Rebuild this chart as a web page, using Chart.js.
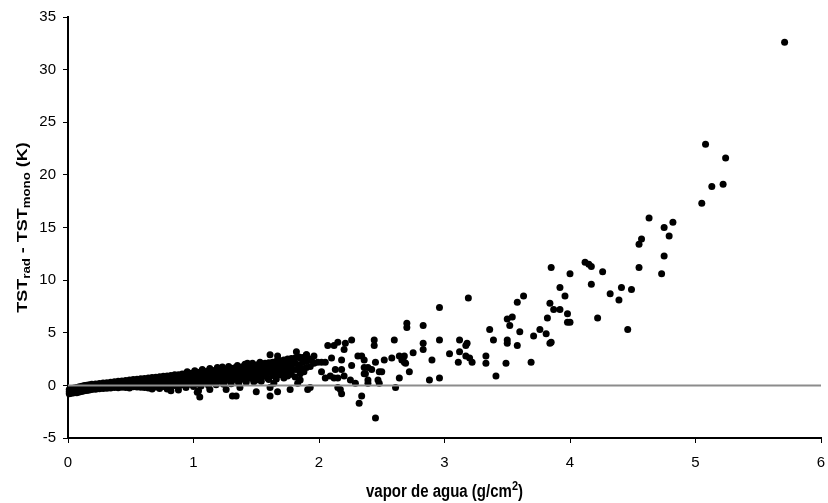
<!DOCTYPE html>
<html>
<head>
<meta charset="utf-8">
<script src="https://cdn.jsdelivr.net/npm/chart.js@4.4.0/dist/chart.umd.min.js"></script>
<style>
  body { margin: 0; background: #fff; }
  canvas { display: block; }
</style>
</head>
<body>
<canvas id="vaporChart" width="828" height="503"></canvas>
<script>
// ticks
const xTicks = [0, 1, 2, 3, 4, 5, 6];
const yTicks = [-5, 0, 5, 10, 15, 20, 25, 30, 35];

// dense band (0 - 2 g/cm2): one x per column, several y values
const bandX = [0.01, 0.03, 0.05, 0.07, 0.09, 0.11, 0.13, 0.15, 0.17, 0.19,
  0.22, 0.25, 0.28, 0.31, 0.34, 0.37, 0.40, 0.43, 0.46, 0.49,
  0.52, 0.55, 0.58, 0.61, 0.64, 0.67, 0.70, 0.73, 0.76, 0.79,
  0.82, 0.85, 0.88, 0.91, 0.94, 0.97, 1.00, 1.03, 1.06, 1.09,
  1.12, 1.15, 1.18, 1.21, 1.24, 1.27, 1.30, 1.33, 1.36, 1.39,
  1.42, 1.45, 1.48, 1.51, 1.54, 1.57, 1.60, 1.63, 1.66, 1.69,
  1.72, 1.75, 1.78, 1.81, 1.84, 1.87, 1.90, 1.93];
const bandY = [
  [-0.40, -0.60, -0.80], [-0.30, -0.55, -0.75], [-0.25, -0.50, -0.70], [-0.20, -0.45, -0.70],
  [-0.12, -0.40, -0.62], [-0.08, -0.35, -0.58], [-0.02, -0.30, -0.52], [0.02, -0.25, -0.48],
  [0.06, -0.20, -0.45], [0.10, -0.15, -0.40], [0.14, -0.10, -0.36], [0.18, -0.05, -0.32],
  [0.22, 0.00, -0.30], [0.26, 0.04, -0.28], [0.30, 0.06, -0.25], [0.35, 0.10, -0.20],
  [0.40, 0.12, -0.22], [0.42, 0.15, -0.18], [0.46, 0.20, -0.20], [0.50, 0.22, -0.15, -0.25],
  [0.55, 0.25, -0.12], [0.58, 0.30, -0.15], [0.62, 0.32, 0.02, -0.18], [0.66, 0.36, 0.05, -0.20],
  [0.70, 0.40, 0.10, -0.25], [0.74, 0.42, 0.12, -0.35], [0.78, 0.48, 0.15, -0.15], [0.82, 0.50, 0.20, -0.30],
  [0.86, 0.55, 0.22, -0.10], [0.90, 0.58, 0.25, -0.35], [0.94, 0.62, 0.30, -0.05, -0.50], [1.00, 0.66, 0.32, 0.00],
  [1.02, 0.70, 0.35, -0.10, -0.45], [1.08, 0.72, 0.40, 0.05], [1.12, 0.78, 0.42, 0.08, -0.20], [1.16, 0.80, 0.45, 0.10],
  [1.20, 0.85, 0.50, 0.12, -0.10], [1.25, 0.90, 0.55, 0.15, -0.65], [1.30, 0.92, 0.58, 0.20, -0.05], [1.32, 0.98, 0.62, 0.25],
  [1.38, 1.00, 0.65, 0.30, 0.00], [1.42, 1.05, 0.70, 0.32], [1.45, 1.10, 0.75, 0.35, 0.05], [1.50, 1.12, 0.78, 0.40],
  [1.55, 1.18, 0.82, 0.45, 0.10], [1.58, 1.20, 0.85, 0.48], [1.62, 1.25, 0.90, 0.50, 0.15], [1.68, 1.30, 0.95, 0.55],
  [1.72, 1.35, 1.00, 0.60, 0.20], [1.78, 1.38, 1.02, 0.62], [1.80, 1.42, 1.05, 0.65, 0.30], [1.85, 1.48, 1.10, 0.70],
  [1.90, 1.50, 1.15, 0.75, 0.35], [1.95, 1.55, 1.20, 0.80], [2.00, 1.60, 1.25, 0.85, 0.40], [2.10, 1.65, 1.20, 0.90],
  [2.15, 1.70, 1.30, 0.55], [2.20, 1.75, 1.35, 0.95], [2.30, 1.80, 1.40, 0.60], [2.35, 1.85, 1.45, 1.00],
  [2.40, 1.90, 1.50, 0.70], [2.50, 1.95, 1.40, 0.90], [2.55, 2.00, 1.60, 1.05], [2.60, 2.10, 1.50, 0.80],
  [2.70, 1.95, 1.45], [2.65, 2.20, 1.60], [2.90, 2.30, 1.70], [2.50, 1.80]
];

// single, separated points [vapor de agua, TSTrad - TSTmono]
const loosePoints = [
  [0.95, 1.30], [1.01, 1.40], [1.07, 1.50], [1.13, 1.60], [1.19, 1.70], [1.28, 1.80],
  [1.35, 1.90], [1.41, 2.00], [1.47, 2.10], [1.53, 2.20],
  [1.82, 3.2], [1.61, 2.9], [1.67, 2.8], [1.90, 2.9], [1.96, 2.8], [1.78, 2.4], [1.85, 2.6],
  [1.99, 2.2], [2.02, 2.2], [2.05, 2.2], [1.43, 2.1], [1.23, 1.75],
  [1.85, 1.1], [1.88, 1.3], [1.66, 1.1], [1.69, 1.3], [1.72, 1.1], [1.59, 0.7], [1.45, 0.7],
  [1.50, 0.5], [1.37, 0.5], [1.85, 0.5], [1.83, 0.2], [1.64, 0.2], [1.61, -0.2],
  [1.04, -0.5], [1.05, -1.1], [1.13, -0.4], [1.26, -0.4], [1.31, -1.0], [1.34, -1.0], [1.37, -0.2],
  [1.50, -0.6], [1.61, -1.0], [1.67, -0.6], [1.77, -0.4], [1.91, -0.4],
  [2.70, 5.9], [2.70, 5.5], [2.83, 5.7], [2.83, 4.0], [2.83, 3.4], [2.60, 4.3], [2.44, 4.3],
  [2.44, 3.8], [2.26, 4.3], [2.21, 4.0], [2.20, 3.4], [2.15, 4.1], [2.12, 3.8], [2.07, 3.8],
  [2.75, 3.1], [2.90, 2.4], [2.64, 2.8], [2.68, 2.8], [2.66, 2.4], [2.68, 2.2], [2.69, 2.1],
  [2.72, 1.3], [2.58, 2.6], [2.52, 2.4], [2.45, 2.2], [2.31, 2.8], [2.34, 2.8], [2.36, 2.4],
  [2.26, 1.9], [2.36, 1.7], [2.39, 1.7], [2.42, 1.5], [2.48, 1.3], [2.50, 1.3], [2.36, 1.1],
  [2.37, 1.1], [2.47, 0.5], [2.48, 0.2], [2.39, 0.5], [2.39, 0.2], [2.29, 0.2], [2.25, 0.5],
  [2.64, 0.7], [2.61, -0.2], [2.88, 0.5], [2.18, 1.5], [2.20, 0.9], [2.13, 1.5], [2.10, 2.6],
  [2.18, 2.4], [2.02, 1.3], [2.05, 0.7], [2.09, 0.9], [2.12, 0.7], [2.15, 0.7], [2.15, -0.2],
  [2.17, -0.4], [2.18, -0.8], [2.34, -1.0], [2.32, -1.7], [2.45, -3.1], [1.94, 2.4], [1.96, 2.1],
  [1.93, -0.2],
  [3.85, 11.2], [3.19, 8.3], [3.63, 8.5], [3.58, 7.9], [3.84, 7.8], [3.87, 7.2], [2.96, 7.4],
  [3.50, 6.3], [3.54, 6.5], [3.52, 5.7], [3.82, 6.4], [3.36, 5.3], [3.60, 5.1], [3.76, 5.3],
  [3.81, 4.9], [3.71, 4.7], [3.12, 4.3], [3.39, 4.3], [3.50, 4.3], [3.50, 4.0], [3.58, 3.8],
  [3.17, 3.8], [3.18, 4.0], [3.85, 4.1], [3.84, 4.0], [2.96, 4.3], [3.04, 3.0], [3.12, 3.2],
  [3.17, 2.8], [3.20, 2.6], [3.22, 2.2], [3.11, 2.2], [3.33, 2.8], [3.33, 2.1], [3.49, 2.1],
  [3.69, 2.2], [3.41, 0.9], [2.96, 0.7],
  [5.08, 22.9], [5.24, 21.6], [5.13, 18.9], [5.22, 19.1], [5.05, 17.3], [4.63, 15.9], [4.82, 15.5],
  [4.75, 15.0], [4.79, 14.2], [4.57, 13.9], [4.55, 13.4], [4.75, 12.3], [4.55, 11.2], [4.73, 10.6],
  [4.12, 11.7], [4.15, 11.5], [4.17, 11.3], [4.26, 10.8], [4.00, 10.6], [4.17, 9.6], [3.92, 9.3],
  [3.96, 8.5], [4.32, 8.7], [4.41, 9.3], [4.49, 9.1], [4.39, 8.1], [3.92, 7.2], [3.98, 6.8],
  [3.98, 6.0], [4.00, 6.0], [4.22, 6.4], [4.46, 5.3], [5.71, 32.6]
];

// reference line at zero
const zeroLineX = [0, 6];

const FONT = "'Liberation Sans', Arial, sans-serif";

document.addEventListener('DOMContentLoaded', function() {
  const points = [];
  bandX.forEach((x, i) => bandY[i].forEach(y => points.push({ x: x, y: y })));
  loosePoints.forEach(p => points.push({ x: p[0], y: p[1] }));

  // axis titles with sub/superscripts, slightly stretched like the original
  const titlesPlugin = {
    id: 'titles',
    afterDraw(chart) {
      const ctx = chart.ctx;
      const area = chart.chartArea;
      const big = 'bold 15px ' + FONT;
      const small = 'bold 11px ' + FONT;

      function drawPieces(pieces, cx, cy, angle, sx, sy) {
        ctx.save();
        ctx.translate(cx, cy);
        ctx.rotate(angle);
        ctx.scale(sx, sy);
        ctx.fillStyle = '#000';
        ctx.textBaseline = 'middle';
        ctx.textAlign = 'left';
        let total = 0;
        pieces.forEach(p => { ctx.font = p.off ? small : big; total += ctx.measureText(p.t).width; });
        let x = -total / 2;
        pieces.forEach(p => {
          ctx.font = p.off ? small : big;
          ctx.fillText(p.t, x, p.off || 0);
          x += ctx.measureText(p.t).width;
        });
        ctx.restore();
      }

      drawPieces([
        { t: 'TST' }, { t: 'rad', off: 4 }, { t: ' - TST' }, { t: 'mono', off: 4 }, { t: ' (K)' }
      ], 23, (area.top + area.bottom) / 2, -Math.PI / 2, 1.2, 1);

      drawPieces([
        { t: 'vapor de agua (g/cm' }, { t: '2', off: -5 }, { t: ')' }
      ], (area.left + area.right) / 2, 492, 0, 1, 1.2);
    }
  };

  const ctx = document.getElementById('vaporChart').getContext('2d');
  new Chart(ctx, {
    type: 'scatter',
    data: {
      datasets: [{
        type: 'line',
        data: zeroLineX.map(x => ({ x: x, y: 0 })),
        borderColor: '#8c8c8c',
        borderWidth: 2,
        pointRadius: 0,
        order: 0
      }, {
        data: points,
        backgroundColor: '#000',
        borderColor: '#000',
        borderWidth: 0,
        pointRadius: 3.5,
        clip: false,
        order: 1
      }]
    },
    options: {
      responsive: false,
      animation: false,
      layout: { padding: { top: 17, right: 7, left: 0, bottom: 0 } },
      plugins: { legend: { display: false }, tooltip: { enabled: false } },
      scales: {
        x: {
          type: 'linear',
          min: 0, max: 6,
          afterBuildTicks(s) { s.ticks = xTicks.map(v => ({ value: v })); },
          ticks: { color: '#000', font: { family: FONT, size: 15 }, padding: 11, maxRotation: 0 },
          grid: { drawOnChartArea: false, color: '#000', tickLength: 5 },
          border: { color: '#000', width: 2 },
          afterFit(s) { s.height = 65; s.paddingLeft = 0; s.paddingRight = 0; }
        },
        y: {
          min: -5, max: 35,
          afterBuildTicks(s) { s.ticks = yTicks.map(v => ({ value: v })); },
          ticks: { color: '#000', font: { family: FONT, size: 15 }, padding: 7 },
          grid: { drawOnChartArea: false, color: '#000', tickLength: 5 },
          border: { color: '#000', width: 2 },
          afterFit(s) { s.width = 68; s.paddingTop = 0; s.paddingBottom = 0; }
        }
      }
    },
    plugins: [titlesPlugin]
  });
});
</script>
</body>
</html>
